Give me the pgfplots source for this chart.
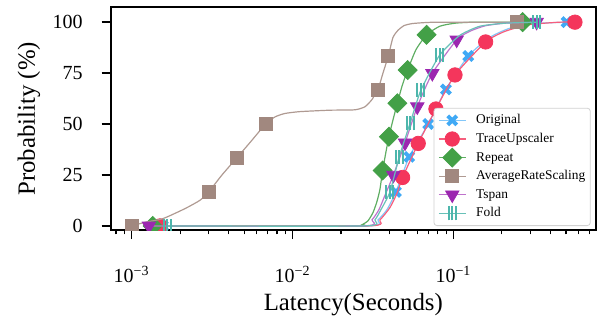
\documentclass[border=0pt]{standalone}
\usepackage{fontspec}
\setmainfont{Liberation Serif}
\usepackage{pgfplots}
\pgfplotsset{compat=1.18}
\definecolor{cOrig}{RGB}{64,169,245}
\definecolor{cTrace}{RGB}{244,54,92}
\definecolor{cRep}{RGB}{67,160,71}
\definecolor{cARS}{RGB}{161,136,127}
\definecolor{cTspan}{RGB}{156,39,176}
\definecolor{cFold}{RGB}{77,182,172}
\colorlet{cOrigL}{cOrig!65!white}
\colorlet{cTraceL}{cTrace!80!white}
\colorlet{cRepL}{cRep!85!white}
\colorlet{cARSL}{cARS!85!white}
\colorlet{cTspanL}{cTspan!65!white}
\colorlet{cFoldL}{cFold!85!white}
\pgfdeclareplotmark{triplebar}{%
  \pgfpathmoveto{\pgfqpoint{-0.5\pgfplotmarksize}{-\pgfplotmarksize}}%
  \pgfpathlineto{\pgfqpoint{-0.5\pgfplotmarksize}{\pgfplotmarksize}}%
  \pgfpathmoveto{\pgfqpoint{0pt}{-\pgfplotmarksize}}%
  \pgfpathlineto{\pgfqpoint{0pt}{\pgfplotmarksize}}%
  \pgfpathmoveto{\pgfqpoint{0.5\pgfplotmarksize}{-\pgfplotmarksize}}%
  \pgfpathlineto{\pgfqpoint{0.5\pgfplotmarksize}{\pgfplotmarksize}}%
  \pgfusepathqstroke}
\pgfplotsset{
  lm/.style={legend image code/.code={%
    \path[draw=none,fill=none,use as bounding box] (0pt,-3pt) rectangle (13.3pt,3pt);
    \draw[#1,line width=0.6pt,fill=none] (0pt,0pt) -- (13.3pt,0pt);
    \pgfinterruptboundingbox
    \draw[##1] plot coordinates {(6.65pt,0pt)};
    \endpgfinterruptboundingbox
  }},
  cline/.style={forget plot, mark=none, line width=0.6pt, color=#1, smooth, tension=0.35},
}
\begin{document}
\begin{tikzpicture}
\begin{axis}[
  xmode=log, scale only axis, width=242.65pt, height=111.35pt,
  xmin=7.405e-4, xmax=0.769, ymin=-2, ymax=107.3,
  xtick={0.001,0.01,0.1},
  xticklabels={10\textsuperscript{−3},10\textsuperscript{−2},10\textsuperscript{−1}},
  minor xtick={0.0008,0.0009,0.002,0.003,0.004,0.005,0.006,0.007,0.008,0.009,0.02,0.03,0.04,0.05,0.06,0.07,0.08,0.09,0.2,0.3,0.4,0.5,0.6,0.7},
  ytick={0,25,50,75,100},
  tick align=outside, xtick pos=bottom, ytick pos=left,
  major tick length=4.5pt, minor tick length=2.2pt,
  major tick style={black, line width=0.8pt},
  minor tick style={black, line width=0.6pt},
  axis line style={line width=0.9pt},
  tick label style={font=\fontsize{10}{12}\selectfont},
  /pgf/number format/assume math mode=true,
  xticklabel style={anchor=base, yshift=-21.9pt, inner sep=0pt},
  yticklabel style={anchor=east, xshift=-9.35pt, inner sep=0pt},
  label style={font=\fontsize{12.4}{14}\selectfont},
  xlabel={Latency(Seconds)},
  ylabel={Probability (\%)},
  xlabel style={at={(axis description cs:0.5,0)}, anchor=base, yshift=-40.2pt},
  ylabel style={at={(axis description cs:-0.1683,0.5)}, anchor=center},
  clip marker paths=true,
  legend cell align=left,
  legend style={at={(1,0)}, anchor=south east, xshift=-2.65pt, yshift=2pt,
    draw=black!18, rounded corners=1.5pt, fill=white,
    font=\fontsize{6.7}{8}\selectfont, row sep=3.1pt, inner xsep=2.5pt, inner ysep=3pt,
    nodes={inner sep=0pt, text height=4.8pt, text depth=1.4pt},
    /tikz/every odd column/.append style={column sep=5.3pt}},
]
% Original
\addplot[cline=cOrigL] coordinates {(0.001565,0) (0.029,0) (0.03396,3) (0.03861,8) (0.0439,16.7) (0.0531,33.9) (0.0697,50) (0.0898,67) (0.1236,83.4) (0.168,92.5) (0.2235,97) (0.3209,99.3) (0.505,100)};
\addplot[only marks, mark=x, color=cOrig, mark size=3.2pt, mark options={line width=2pt}, lm=cOrigL]
  coordinates {(0.001565,0) (0.0439,16.7) (0.0531,33.9) (0.0697,50) (0.0898,67) (0.1236,83.4) (0.505,100)};
\addlegendentry{Original}
% TraceUpscaler
\addplot[cline=cTraceL] coordinates {(0.0015,0) (0.02941,0) (0.03491,3) (0.04027,9) (0.04456,16) (0.0483,23.8) (0.0604,40.5) (0.0778,57.4) (0.1022,74.1) (0.1585,90.3) (0.2089,95.5) (0.2974,98.8) (0.4566,100) (0.569,100)};
\addplot[only marks, mark=*, color=cTrace, mark size=3.6pt, lm=cTraceL]
  coordinates {(0.0015,0) (0.0483,23.8) (0.0604,40.5) (0.0778,57.4) (0.1022,74.1) (0.1585,90.3) (0.569,100)};
\addlegendentry{TraceUpscaler}
% Repeat
\addplot[cline=cRepL] coordinates {(0.00135,0) (0.02443,0) (0.027,0.6) (0.02941,2.5) (0.0316,6.5) (0.03346,12) (0.03492,18) (0.0363,27.2) (0.03779,35) (0.0397,43.8) (0.04207,52) (0.0448,60.2) (0.04785,68.5) (0.0519,76.5) (0.05848,86.5) (0.0681,93.8) (0.0822,98) (0.1022,99.5) (0.136,100) (0.269,100)};
\addplot[only marks, mark=square*, color=cRep, mark size=3.36pt, mark options={rotate=45}, lm=cRepL]
  coordinates {(0.00135,0) (0.0363,27.2) (0.0397,43.8) (0.0448,60.2) (0.0519,76.5) (0.0681,93.8) (0.269,100)};
\addlegendentry{Repeat}
% AverageRateScaling
\addplot[cline=cARSL] coordinates {(0.001,0) (0.00121,1.8) (0.001565,3.6) (0.002145,8.5) (0.002658,12.6) (0.00301,16.7) (0.00364,25) (0.00449,33.3) (0.005514,41.5) (0.0068,50) (0.007775,53.5) (0.008969,55.2) (0.01112,56.1) (0.01708,56.8) (0.02443,57) (0.02818,58.5) (0.03115,62) (0.03298,65.5) (0.0341,67.2) (0.03646,75) (0.0394,83.5) (0.04207,92.5) (0.04519,96) (0.04924,98.3) (0.05521,99.3) (0.06651,99.8) (0.0822,100) (0.247,100)};
\addplot[only marks, mark=square*, color=cARS, mark size=3.25pt, lm=cARSL]
  coordinates {(0.001,0) (0.00301,16.67) (0.00449,33.33) (0.0068,50) (0.0341,66.67) (0.0394,83.33) (0.247,100)};
\addlegendentry{AverageRateScaling}
% Tspan
\addplot[cline=cTspanL] coordinates {(0.00128,0) (0.027,0) (0.03115,3) (0.03443,8) (0.03752,15) (0.0423,24.9) (0.05,40.8) (0.0596,58.5) (0.0739,74.9) (0.1047,91.3) (0.1262,95.5) (0.157,98.2) (0.2089,99.5) (0.329,100)};
\addplot[only marks, mark=triangle*, color=cTspan, mark size=3.85pt, mark options={rotate=180}, lm=cTspanL]
  coordinates {(0.00128,0) (0.0423,24.9) (0.05,40.8) (0.0596,58.5) (0.0739,74.9) (0.1047,91.3) (0.329,100)};
\addlegendentry{Tspan}
% Fold
\addplot[cline=cFoldL] coordinates {(0.00166,0) (0.02818,0) (0.03251,3) (0.03543,8) (0.0403,16.7) (0.046,33.9) (0.0537,50.3) (0.0628,66.7) (0.0822,83.9) (0.1094,93.5) (0.1456,98) (0.2089,99.5) (0.329,100)};
\addplot[only marks, mark=triplebar, color=cFold, mark size=3.5pt, mark options={line width=1pt}, lm=cFoldL]
  coordinates {(0.00166,0) (0.0403,16.7) (0.046,33.9) (0.0537,50.3) (0.0628,66.7) (0.0822,83.9) (0.329,100)};
\addlegendentry{Fold}
\end{axis}
\path ([xshift=-55.35pt,yshift=-45pt]current axis.south west) rectangle ([xshift=1pt,yshift=3.65pt]current axis.north east);
\end{tikzpicture}
\end{document}
